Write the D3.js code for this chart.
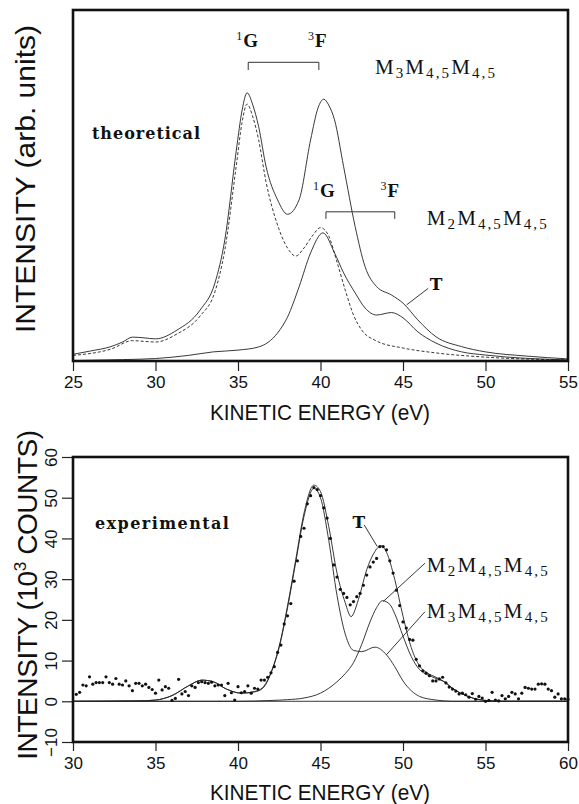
<!DOCTYPE html>
<html>
<head>
<meta charset="utf-8">
<script src="https://cdn.jsdelivr.net/npm/d3@7"></script>
<style>
  html, body { margin: 0; padding: 0; background: #fff; }
  svg { display: block; }
</style>
</head>
<body>
<svg id="chart" width="579" height="804"></svg>
<script>
// ---------------- DATA ----------------
// Top panel (theoretical), intensity in arbitrary units (0 = axis, 100 = frame top)
const theoTotal = [[25,1.9],[26,2.8],[27.3,4.1],[28,5.4],[28.6,6.8],[29.3,6.6],[30,6.3],[31.3,8.8],[32.7,14.5],[33.6,22.2],[34.2,34.5],[34.9,60.1],[35.25,71.5],[35.55,76.4],[35.9,72.9],[36.25,66.8],[36.7,55.4],[37.4,45.9],[38,41.8],[38.7,45.9],[39.4,63.0],[39.85,72.1],[40.2,74.6],[40.5,72.9],[40.85,68.7],[41.4,55.4],[42.1,38.3],[42.7,26.9],[43.4,21.2],[44.3,18.8],[45,16.5],[45.9,11.7],[47,6.9],[48.55,4.1],[50,2.6],[52.5,1.4],[55,0.6]];
const theoM3 = [[25,1.6],[27.3,3.4],[28.6,5.8],[29.3,5.6],[30,5.4],[31.3,7.7],[32.7,12.8],[33.6,19.7],[34.2,31.6],[34.9,55.8],[35.25,68.1],[35.55,73.2],[35.9,69.5],[36.25,63.0],[36.7,51.0],[37.4,38.7],[38,32.2],[38.5,29.9],[39,32.2],[39.5,35.6],[40,38.0],[40.5,35.6],[41,28.2],[41.5,20.2],[42,13.1],[42.5,8.8],[43.4,5.7],[45,3.7],[47,2.3],[50,1.1],[55,0.3]];
const theoM2 = [[25,0.1],[28,0.4],[30,0.7],[32,1.6],[33.5,2.6],[35,3.1],[36.25,4.0],[37.4,8.0],[38,12.5],[38.7,21.1],[39.4,30.8],[40.15,36.5],[40.85,30.8],[41.4,25.1],[42.1,19.4],[42.7,15.1],[43.4,13.1],[44.3,13.8],[45,12.3],[45.9,8.3],[47,5.1],[48.55,2.6],[50,1.7],[55,0.3]];
const topTicks = [25,30,35,40,45,50,55];

// Bottom panel (experimental), 10^3 counts
const expPoints = [[30.2,1.7],[30.4,2.2],[30.6,4.0],[30.8,3.8],[31.0,6.0],[31.2,4.2],[31.4,4.6],[31.6,4.6],[31.8,4.6],[32.0,6.0],
[32.2,4.6],[32.4,4.2],[32.6,5.6],[32.8,4.2],[33.0,4.0],[33.2,5.0],[33.4,3.8],[33.6,2.6],[33.8,4.4],[34.0,4.4],
[34.2,3.8],[34.4,4.2],[34.6,3.4],[34.8,2.9],[35.0,2.0],[35.2,5.2],[35.4,2.8],[35.6,3.6],[35.8,3.2],[36.0,0.2],
[36.2,0.7],[36.4,5.4],[36.6,1.8],[36.8,2.4],[37.0,1.4],[37.2,3.8],[37.4,3.4],[37.6,4.6],[37.8,4.8],[38.0,4.6],
[38.2,4.4],[38.4,4.7],[38.6,3.8],[38.8,4.0],[39.0,4.0],[39.2,1.4],[39.4,4.4],[39.6,2.1],[39.8,0.3],[40.0,3.6],
[40.2,2.1],[40.4,2.4],[40.6,3.8],[40.8,2.0],[41.0,3.2],[41.2,3.0],[41.4,5.2],[41.6,5.2],[41.8,5.9],[42.0,7.0],
[42.2,8.5],[42.4,12.0],[42.6,13.8],[42.8,19.0],[43.0,21.0],[43.2,24.0],[43.4,29.5],[43.6,34.5],[43.8,40.5],[44.0,42.5],
[44.2,48.5],[44.4,50.5],[44.6,52.5],[44.8,52.0],[45.0,50.5],[45.2,47.5],[45.4,45.0],[45.6,40.0],[45.8,33.5],[46.0,30.5],
[46.2,27.5],[46.4,26.5],[46.6,25.5],[46.8,23.7],[47.0,24.5],[47.2,25.7],[47.4,26.5],[47.6,28.5],[47.8,31.0],[48.0,33.0],
[48.2,34.2],[48.4,35.1],[48.6,38.0],[48.8,38.0],[49.0,37.2],[49.2,34.5],[49.4,31.5],[49.6,27.3],[49.8,23.5],[50.0,19.5],
[50.2,18.0],[50.4,15.2],[50.6,15.0],[50.8,10.3],[51.0,8.7],[51.2,7.5],[51.4,6.9],[51.6,6.3],[51.8,5.0],[52.0,5.0],
[52.2,5.5],[52.4,5.9],[52.6,4.5],[52.8,3.5],[53.0,3.0],[53.2,2.5],[53.4,1.8],[53.6,2.0],[53.8,1.6],[54.0,1.0],
[54.2,1.9],[54.4,0.5],[54.6,1.2],[54.8,0.8],[55.0,0.0],[55.2,0.2],[55.4,2.2],[55.6,0.3],[55.8,0.1],[56.0,1.4],
[56.2,0.6],[56.4,1.2],[56.6,2.2],[56.8,1.8],[57.0,0.6],[57.2,2.0],[57.4,3.4],[57.6,3.2],[57.8,3.0],[58.0,3.0],
[58.2,4.2],[58.4,4.3],[58.6,4.2],[58.8,3.0],[59.0,2.6],[59.2,1.0],[59.4,1.8],[59.6,0.6],[59.8,0.6],[60.0,0.5]];
const fitTotal = [[30,0],[34,0.1],[35,0.3],[36,1.4],[37,3.8],[37.8,5.2],[38.5,4.8],[39.3,3.0],[40.2,2.0],[41,2.4],[41.5,3.4],[42,7.1],[42.5,13.6],[43,23.4],[43.5,34.8],[44,46.2],[44.6,53.1],[45,51.5],[45.5,42.9],[46,31.5],[46.5,24.2],[46.85,20.8],[47.3,25.0],[47.8,32.3],[48.3,36.8],[48.65,38.2],[49,36.6],[49.5,29.9],[50,20.9],[50.5,13.2],[51,8.7],[51.5,6.9],[52,5.9],[52.5,4.8],[53,3.2],[54,1.1],[55,0.2],[56,0],[60,0]];
const fitM3 = [[30,0],[34,0.1],[35,0.3],[36,1.4],[37,3.8],[37.8,5.2],[38.5,4.8],[39.3,3.0],[40.2,2.0],[41,2.3],[41.5,3.2],[42,6.9],[42.5,13.3],[43,22.9],[43.5,34.2],[44,45.4],[44.6,52.3],[45,50.0],[45.5,39.5],[46,26],[46.5,16.5],[47,12.5],[47.5,12.2],[48.3,13.3],[49,11.4],[49.5,8.5],[50,5.0],[50.5,2.6],[51,1.2],[52,0.3],[53,0],[60,0]];
const fitM2 = [[30,0],[40,0],[42,0.2],[43,0.4],[44,0.8],[45,2.0],[45.5,3.2],[46,4.8],[46.5,6.8],[47,9.5],[47.5,14],[48,19.5],[48.4,23],[48.75,24.7],[49.2,23.8],[49.5,21.5],[50,16],[50.5,11],[51,7.8],[51.5,6.5],[52,5.6],[52.5,4.8],[53,3.2],[54,1.1],[55,0.2],[56,0],[60,0]];
const bottomXTicks = [30,35,40,45,50,55,60];
const bottomYTicks = [-10,0,10,20,30,40,50,60];

// annotation anchors (data coordinates)
const topBrackets = [{x0:35.62,x1:39.9,y:85.1,yEnd:82.9},{x0:40.33,x1:44.5,y:42.5,yEnd:40.5}];
const topTermLabels = [{sup:"1",t:"G",x:35.55,y:89.5},{sup:"3",t:"F",x:39.8,y:89.5},{sup:"1",t:"G",x:40.2,y:46.7},{sup:"3",t:"F",x:44.2,y:46.7}];

// ---------------- DRAW ----------------
const svg = d3.select("#chart");
const LEFT = 73, RIGHT = 568;

const topX = d3.scaleLinear().domain([25,55]).range([LEFT,RIGHT]);
const topY = d3.scaleLinear().domain([0,100]).range([361,10]);
const botX = d3.scaleLinear().domain([30,60]).range([LEFT,RIGHT]);
const botY = d3.scaleLinear().domain([-10,60]).range([742,457]);

function fitWidth(sel, target){
  const node = sel.node();
  const len = node.getComputedTextLength();
  const n = node.textContent.length;
  if (n > 1) sel.attr("letter-spacing", ((target - len) / (n - 1)).toFixed(2));
}

function mLabel(g, x, y, sub, target){
  const t = g.append("text").attr("x", x).attr("y", y)
    .attr("font-family", "'Liberation Serif', 'DejaVu Serif', serif")
    .attr("font-size", 21).attr("fill", "#111");
  const subs = [sub, "4,5", "4,5"];
  subs.forEach((s, i) => {
    t.append("tspan").attr("dy", i === 0 ? 0 : -4).text("M");
    t.append("tspan").attr("font-size", 15).attr("dy", 4).text(s);
  });
  fitWidth(t, target);
  return t;
}
function boldSerif(g, txt, x, y, size, anchor){
  return g.append("text").attr("x", x).attr("y", y)
    .attr("font-family", "'DejaVu Serif', 'Liberation Serif', serif")
    .attr("font-weight", "bold").attr("font-size", size)
    .attr("text-anchor", anchor || "start").attr("fill", "#111").text(txt);
}
function termLabel(g, sup, main, x, y){
  const t = g.append("text").attr("x", x).attr("y", y).attr("text-anchor","middle")
    .attr("font-family", "'Liberation Serif', 'DejaVu Serif', serif").attr("fill","#111");
  t.append("tspan").attr("font-size", 12).attr("dy", -7).text(sup);
  t.append("tspan").attr("font-size", 19).attr("font-weight","bold").attr("dx", 1).attr("dy", 7).text(main);
  return t;
}
function leader(g, x1, y1, x2, y2){
  g.append("line").attr("x1",x1).attr("y1",y1).attr("x2",x2).attr("y2",y2)
    .attr("stroke","#222").attr("stroke-width",0.9);
}

// ===== TOP PANEL =====
const topG = svg.append("g");
const lineTop = d3.line().x(d=>topX(d[0])).y(d=>topY(d[1])).curve(d3.curveMonotoneX);

topG.append("path").datum(theoM3).attr("d", lineTop).attr("fill","none")
  .attr("stroke","#222").attr("stroke-width",0.9).attr("stroke-dasharray","3,2");
topG.append("path").datum(theoM2).attr("d", lineTop).attr("fill","none")
  .attr("stroke","#222").attr("stroke-width",0.9);
topG.append("path").datum(theoTotal).attr("d", lineTop).attr("fill","none")
  .attr("stroke","#222").attr("stroke-width",0.9);

const topAxis = topG.append("g").attr("transform","translate(0,361)")
  .call(d3.axisBottom(topX).tickValues(topTicks).tickSize(10).tickSizeOuter(0).tickPadding(5));
topAxis.select(".domain").remove();
topAxis.selectAll(".tick line").attr("stroke","#222").attr("stroke-width",1.2);
topAxis.selectAll(".tick text").attr("font-family","'Liberation Sans', Arial, sans-serif")
  .attr("font-size",17).attr("fill","#111");

topG.append("rect").attr("x",LEFT).attr("y",10).attr("width",RIGHT-LEFT).attr("height",351)
  .attr("fill","none").attr("stroke","#111").attr("stroke-width",2.6);

topBrackets.forEach(b=>{
  const p = d3.path();
  p.moveTo(topX(b.x0), topY(b.yEnd));
  p.lineTo(topX(b.x0), topY(b.y));
  p.lineTo(topX(b.x1), topY(b.y));
  p.lineTo(topX(b.x1), topY(b.yEnd));
  topG.append("path").attr("d", p.toString()).attr("fill","none").attr("stroke","#333").attr("stroke-width",1);
});
topTermLabels.forEach(l=>{ termLabel(topG, l.sup, l.t, topX(l.x), topY(l.y)); });

mLabel(topG, topX(43.3), topY(81.8), "3", 120);
mLabel(topG, topX(46.44), topY(38.7), "2", 120);
boldSerif(topG, "T", topX(47.0), topY(20.2), 17, "middle");
leader(topG, topX(46.53), topY(20.7), topX(45.22), topY(16.0));
const theoTxt = boldSerif(topG, "theoretical", topX(26.15), topY(63.2), 16);
fitWidth(theoTxt, 108);

svg.append("text").attr("x", 320).attr("y", 420).attr("text-anchor","middle")
  .attr("font-family","'Liberation Sans', Arial, sans-serif").attr("font-size",22).attr("fill","#111")
  .attr("textLength",220).attr("lengthAdjust","spacingAndGlyphs").text("KINETIC ENERGY (eV)");
svg.append("text").attr("transform","translate(35,179) rotate(-90)").attr("text-anchor","middle")
  .attr("font-family","'Liberation Sans', Arial, sans-serif").attr("font-size",28).attr("fill","#111")
  .attr("textLength",308).attr("lengthAdjust","spacingAndGlyphs").text("INTENSITY (arb. units)");

// ===== BOTTOM PANEL =====
const botG = svg.append("g");
const lineBot = d3.line().x(d=>botX(d[0])).y(d=>botY(d[1])).curve(d3.curveMonotoneX);

botG.append("line").attr("x1",botX(30)).attr("x2",botX(60)).attr("y1",botY(0)).attr("y2",botY(0))
  .attr("stroke","#222").attr("stroke-width",0.9);
[fitM2, fitM3, fitTotal].forEach(d=>{
  botG.append("path").datum(d).attr("d", lineBot).attr("fill","none")
    .attr("stroke","#222").attr("stroke-width",0.9);
});
botG.append("g").selectAll("circle").data(expPoints).join("circle")
  .attr("cx", d=>botX(d[0])).attr("cy", d=>botY(d[1])).attr("r",1.6).attr("fill","#111");

const bxAxis = botG.append("g").attr("transform","translate(0,742)")
  .call(d3.axisBottom(botX).tickValues(bottomXTicks).tickSize(9).tickSizeOuter(0).tickPadding(6));
bxAxis.select(".domain").remove();
bxAxis.selectAll(".tick line").attr("stroke","#222").attr("stroke-width",1.2);
bxAxis.selectAll(".tick text").attr("font-family","'Liberation Sans', Arial, sans-serif")
  .attr("font-size",17).attr("fill","#111");

const byAxis = botG.append("g").attr("transform",`translate(${LEFT},0)`)
  .call(d3.axisLeft(botY).tickValues(bottomYTicks).tickSize(11).tickSizeOuter(0));
byAxis.select(".domain").remove();
byAxis.selectAll(".tick line").attr("stroke","#222").attr("stroke-width",1.2);
byAxis.selectAll(".tick text")
  .attr("x", null).attr("dy", null)
  .attr("transform","translate(-16,0) rotate(-90)")
  .attr("text-anchor","middle")
  .attr("font-family","'Liberation Sans', Arial, sans-serif")
  .attr("font-size",17).attr("fill","#111");

botG.append("rect").attr("x",LEFT).attr("y",457).attr("width",RIGHT-LEFT).attr("height",285)
  .attr("fill","none").attr("stroke","#111").attr("stroke-width",2.6);

const expTxt = boldSerif(botG, "experimental", botX(31.33), botY(42.3), 16);
fitWidth(expTxt, 134);
boldSerif(botG, "T", botX(47.33), botY(42.6), 17, "middle");
leader(botG, botX(47.65), botY(43.3), botX(48.44), botY(38.0));
mLabel(botG, botX(51.44), botY(31.8), "2", 121);
leader(botG, botX(51.33), botY(33.9), botX(48.8), botY(24.5));
mLabel(botG, botX(51.44), botY(20.5), "3", 121);
leader(botG, botX(51.33), botY(22.0), botX(48.99), botY(11.4));

svg.append("text").attr("x", 320).attr("y", 800).attr("text-anchor","middle")
  .attr("font-family","'Liberation Sans', Arial, sans-serif").attr("font-size",22).attr("fill","#111")
  .attr("textLength",220).attr("lengthAdjust","spacingAndGlyphs").text("KINETIC ENERGY (eV)");
const botYT = svg.append("text").attr("transform","translate(37,595) rotate(-90)").attr("text-anchor","middle")
  .attr("font-family","'Liberation Sans', Arial, sans-serif").attr("font-size",28).attr("fill","#111");
botYT.append("tspan").text("INTENSITY (10");
botYT.append("tspan").attr("font-size",17).attr("dy",-11).text("3");
botYT.append("tspan").attr("dy",11).text(" COUNTS)");
fitWidth(botYT, 330);
</script>
</body>
</html>
